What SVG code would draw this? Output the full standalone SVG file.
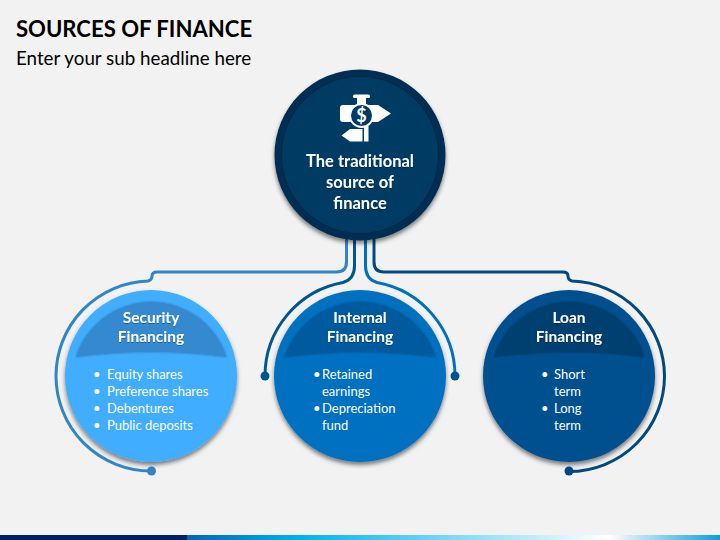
<svg xmlns="http://www.w3.org/2000/svg" width="720" height="540" viewBox="0 0 720 540">
<style>
text{font-family:Lato,"Liberation Sans",sans-serif;fill:#fff}
.t{font-weight:700;font-size:15.500px;text-anchor:middle;filter:url(#ts)}
.c{font-weight:700;font-size:16.500px;text-anchor:middle;filter:url(#ts)}
.b{font-size:13px}
.l{fill:none;stroke-width:3;stroke-linecap:round;stroke-linejoin:round}
</style>
<defs>
<linearGradient id="bar" x1="0" x2="1" y1="0" y2="0"><stop offset="0" stop-color="#0563b8"/><stop offset=".21" stop-color="#00b0f0"/><stop offset=".79" stop-color="#fff"/><stop offset="1" stop-color="#0e9ddb"/></linearGradient>
<filter id="sh" x="-20%" y="-20%" width="140%" height="140%"><feDropShadow dx="0" dy="3" stdDeviation="2.200" flood-color="#000" flood-opacity=".5"/></filter>
<filter id="dm" x="-20%" y="-20%" width="140%" height="140%"><feDropShadow dx="0" dy="0" stdDeviation="1.200" flood-color="#000" flood-opacity=".35"/></filter>
<filter id="ts" x="-10%" y="-20%" width="120%" height="150%"><feDropShadow dx="0" dy="1" stdDeviation=".5" flood-color="#000" flood-opacity=".3"/></filter>
</defs>
<rect width="720" height="540" fill="#f2f2f2"/>
<rect y="535" width="187" height="5" fill="#002060"/>
<rect x="187" y="535" width="533" height="5" fill="url(#bar)"/>
<text x="16" y="37" style="fill:#000;font-size:22.100px;font-weight:700">SOURCES OF FINANCE</text>
<text x="16" y="65" style="fill:#000;font-size:18.800px">Enter your sub headline here</text>
<g id="connectors">
<path class="l" stroke="#2e86c8" d="M346.500 238V262Q346.500 272 336.500 272H157Q152 272 152 276Q152 280 148 281A95 95 0 0 0 56 376A95 95 0 0 0 151 471"/>
<path class="l" stroke="#00568f" d="M354.500 238V266Q354.500 279 343 282.500A95 95 0 0 0 265 376"/>
<path class="l" stroke="#0070c0" d="M365.500 238V266Q365.500 279 377 282.500A95 95 0 0 1 455 376"/>
<path class="l" stroke="#004a80" d="M374 238V262Q374 272 384 272H563Q568 272 568 276Q568 280 572 281A95.500 95.500 0 0 1 664.500 376A95.500 95.500 0 0 1 569 471.500"/>
<circle cx="151.500" cy="471" r="4.500" fill="#2e86c8"/>
<circle cx="265" cy="376" r="4.500" fill="#00568f"/>
<circle cx="455" cy="376" r="4.500" fill="#00568f"/>
<circle cx="569" cy="471" r="4.500" fill="#004a80"/>
</g>
<g id="source">
<circle cx="360" cy="155" r="85.500" fill="#012e52" filter="url(#sh)"/>
<circle cx="360" cy="155" r="78" fill="#013a63" filter="url(#dm)"/>
<g id="icon">
<rect x="353" y="94.500" width="17" height="3.500" rx="1.500" fill="#fff"/>
<rect x="357" y="97" width="9" height="9" fill="#fff"/>
<path d="M340 108Q340 105 343 105H378L391 113.500L378 122H343Q340 122 340 119Z" fill="#fff"/>
<path d="M364 125H368.500V141.500H364Z" fill="#fff"/>
<path d="M341.500 135.500L350 129H362.500V141.500H350Z" fill="#fff"/>
<circle cx="361.500" cy="115.500" r="12.500" fill="#fff"/>
<circle cx="361.500" cy="115.500" r="10.500" fill="#013a63"/>
<text x="361.500" y="122" style="font-size:18px;font-weight:700;text-anchor:middle">$</text>
</g>
<text class="c" x="360" y="166.500">The traditional</text>
<text class="c" x="360" y="187.500">source of</text>
<text class="c" x="360" y="209">finance</text>
</g>
<g id="security">
<circle cx="151" cy="376" r="86" fill="#3fadff" filter="url(#sh)"/>
<path d="M76 357A79 79 0 0 1 226.500 357Q151 347 76 357Z" fill="#3589cf" filter="url(#dm)"/>
<text class="t" x="151" y="323">Security</text>
<text class="t" x="151" y="342">Financing</text>
<text class="b" x="93" y="379">•</text><text class="b" x="107" y="379">Equity shares</text>
<text class="b" x="93" y="396">•</text><text class="b" x="107" y="396">Preference shares</text>
<text class="b" x="93" y="413">•</text><text class="b" x="107" y="413">Debentures</text>
<text class="b" x="93" y="430">•</text><text class="b" x="107" y="430">Public deposits</text>
</g>
<g id="internal">
<circle cx="360" cy="376" r="86" fill="#0070c0" filter="url(#sh)"/>
<path d="M285 357A79 79 0 0 1 435.500 357Q360 347 285 357Z" fill="#005a9e" filter="url(#dm)"/>
<text class="t" x="360" y="323">Internal</text>
<text class="t" x="360" y="342">Financing</text>
<text class="b" x="313" y="379">•</text><text class="b" x="322" y="379">Retained</text>
<text class="b" x="322" y="396">earnings</text>
<text class="b" x="313" y="413">•</text><text class="b" x="322" y="413">Depreciation</text>
<text class="b" x="322" y="430">fund</text>
</g>
<g id="loan">
<circle cx="569" cy="376" r="86" fill="#00508f" filter="url(#sh)"/>
<path d="M494 357A79 79 0 0 1 644.500 357Q569 347 494 357Z" fill="#003f70" filter="url(#dm)"/>
<text class="t" x="569" y="323">Loan</text>
<text class="t" x="569" y="342">Financing</text>
<text class="b" x="541" y="379">•</text><text class="b" x="554" y="379">Short</text>
<text class="b" x="554" y="396">term</text>
<text class="b" x="541" y="413">•</text><text class="b" x="554" y="413">Long</text>
<text class="b" x="554" y="430">term</text>
</g>
</svg>
